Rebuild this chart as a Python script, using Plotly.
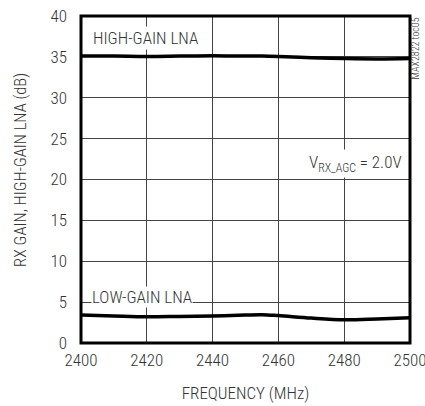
import plotly.graph_objects as go

freq = [2400, 2410, 2420, 2430, 2440, 2450, 2455, 2460, 2470, 2480, 2490, 2500]
high_gain = [35.1, 35.1, 35.05, 35.1, 35.15, 35.1, 35.1, 35.05, 34.9, 34.8, 34.75, 34.8]
low_gain = [3.42, 3.3, 3.2, 3.25, 3.3, 3.42, 3.46, 3.35, 3.05, 2.85, 2.95, 3.1]

x_ticks = [2400, 2420, 2440, 2460, 2480, 2500]
y_ticks = [0, 5, 10, 15, 20, 25, 30, 35, 40]

FONT = "Roboto Condensed, Liberation Sans Narrow, Arial Narrow, sans-serif"
TXT = "#333333"

fig = go.Figure()
fig.add_trace(go.Scatter(x=freq, y=high_gain, mode="lines",
                         line=dict(color="black", width=3.5, shape="spline"),
                         showlegend=False, hoverinfo="skip"))
fig.add_trace(go.Scatter(x=freq, y=low_gain, mode="lines",
                         line=dict(color="black", width=3.5, shape="spline"),
                         showlegend=False, hoverinfo="skip"))

f17 = dict(family=FONT, size=17, color=TXT, weight=300)

fig.update_layout(
    width=425, height=406,
    margin=dict(l=81, r=15, t=16, b=63, autoexpand=False),
    paper_bgcolor="white", plot_bgcolor="white",
    font=f17,
    xaxis=dict(range=[2400, 2500], tickvals=x_ticks, ticks="",
               showgrid=True, gridcolor="#444444", gridwidth=1,
               zeroline=False, showline=False, automargin=False,
               ticklabelstandoff=5, ticklabeloverflow="allow",
               tickfont=f17,
               title=dict(text="FREQUENCY (MHz)", standoff=18, font=f17)),
    yaxis=dict(range=[0, 40], tickvals=y_ticks, ticks="",
               showgrid=True, gridcolor="#444444", gridwidth=1,
               zeroline=False, showline=False, automargin=False,
               ticklabelstandoff=13, ticklabeloverflow="allow",
               tickfont=f17),
)

fig.add_shape(type="rect", xref="paper", yref="paper", x0=0, y0=0, x1=1, y1=1,
              line=dict(color="black", width=3), layer="above")

# y-axis title
fig.add_annotation(x=-0.1854, y=0.529, xref="paper", yref="paper",
                   xanchor="center", yanchor="middle", textangle=-90,
                   text="RX GAIN, HIGH-GAIN LNA (dB)", showarrow=False,
                   font=dict(family=FONT, size=16.5, color=TXT, weight=300))

fig.add_annotation(x=2403, y=37.3, xref="x", yref="y", xanchor="left", yanchor="middle",
                   text="HIGH-GAIN LNA", showarrow=False, bgcolor="white",
                   font=f17, borderpad=1)
fig.add_annotation(x=2403, y=5.6, xref="x", yref="y", xanchor="left", yanchor="middle",
                   text="LOW-GAIN LNA", showarrow=False, bgcolor="white",
                   font=f17, borderpad=0)
fig.add_annotation(x=2498.5, y=22.0, xref="x", yref="y", xanchor="right", yanchor="middle",
                   text="V<sub>RX_AGC</sub> = 2.0V", showarrow=False, bgcolor="white",
                   font=f17, borderpad=2)
fig.add_annotation(x=1.0, y=1.0, xref="paper", yref="paper", xanchor="left", yanchor="top",
                   xshift=-3, text="MAX2822 toc05", showarrow=False, textangle=-90,
                   font=dict(family=FONT, size=10, color=TXT, weight=300))

# remove the default 8px page margin so the figure fills the window exactly
fig.write_html("out.html", config={"displayModeBar": False},
               post_script="document.body.style.margin='0';document.body.style.overflow='hidden';")
